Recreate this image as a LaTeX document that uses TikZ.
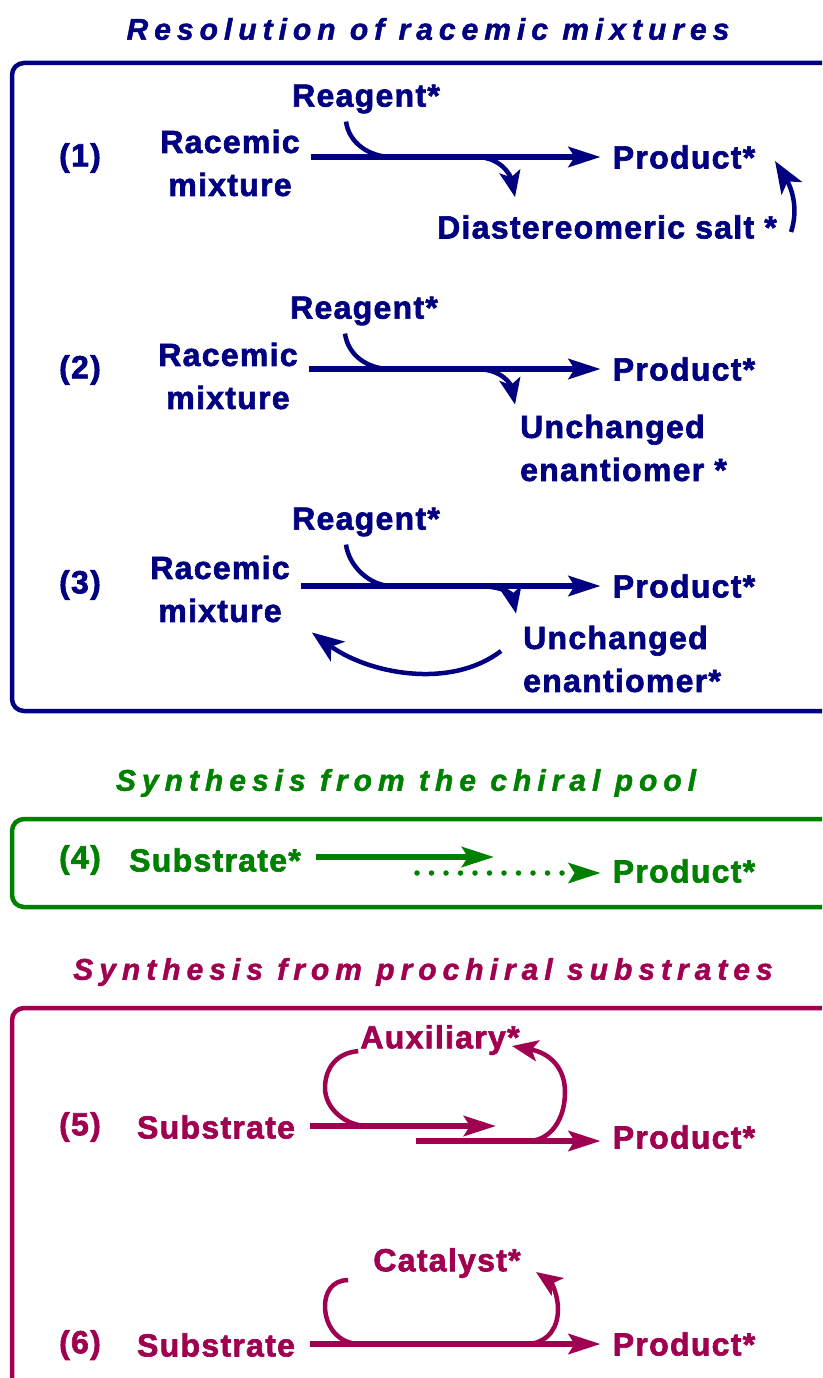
\documentclass[tikz,border=0pt]{standalone}
\usepackage{fontspec}
\setmainfont{Liberation Sans}
\newfontfamily\chemfont{Liberation Sans}[LetterSpace=4, BoldFeatures={FakeBold=2}]
\newfontfamily\headfont{Liberation Sans}[LetterSpace=20, BoldItalicFeatures={FakeBold=1.5}]
\usetikzlibrary{arrows.meta,calc}

\definecolor{resnavy}{RGB}{0,0,128}
\definecolor{poolgreen}{RGB}{0,128,0}
\definecolor{prochiral}{RGB}{160,0,80}

\begin{document}
\begin{tikzpicture}[
    x=1pt, y=-1pt,
    chem/.style={font=\fontsize{32}{43}\selectfont\chemfont\bfseries, inner sep=0pt, align=center},
    heading/.style={font=\fontsize{30}{34}\selectfont\headfont\bfseries\itshape, inner sep=0pt},
    panel/.style={line width=4.5pt, rounded corners=12pt},
    reaction/.style={line width=6pt, -{Stealth[length=32pt,width=20pt,inset=6pt]}},
    joiner/.style={line width=4.5pt},
    branch/.style={line width=4.5pt, -{Stealth[length=26pt,width=21pt,inset=6pt]}},
    recycle/.style={line width=4.5pt, -{Stealth[length=32pt,width=24pt,inset=8pt]}}
]
\clip (0,0) rectangle (822,1378);

% Resolution of racemic mixtures
\begin{scope}[resnavy]
\node[heading] (reshead) at (428,29) {Resolution of racemic mixtures};
\draw[panel] (860,63) -- (12,63) -- (12,711) -- (860,711);

% Row (1)
\node[chem] (num1) at (80,158) {(1)};
\node[chem] (rac1) at (230,163) {Racemic\\mixture};
\node[chem] (reag1) at (366,99) {Reagent*};
\node[chem] (prod1) at (684,157) {Product*};
\node[chem] (salt1) at (607,227) {Diastereomeric salt *};
\coordinate (join1) at (392,157);
\coordinate (fork1) at (476,157);
\coordinate (tip1) at (515,197);
\coordinate (salttip) at (775,161);
\draw[reaction] ([xshift=11pt]rac1.east |- prod1) -- ([xshift=-12pt]prod1.west);
\draw[joiner] ([xshift=-20pt,yshift=-8pt]reag1.south) .. controls +(3,22) and +(-22,0) .. (join1);
\draw[branch] (fork1) .. controls +(26,0) and +(-4,-20) .. (tip1);
\draw[recycle] ([shift={(14,5)}]salt1.east) .. controls +(8,-24) and +(16,26) .. (salttip);

% Row (2)
\node[chem] (num2) at (80,370) {(2)};
\node[chem] (rac2) at (228,376) {Racemic\\mixture};
\node[chem] (reag2) at (364,311) {Reagent*};
\node[chem] (prod2) at (684,369) {Product*};
\node[chem, align=left, anchor=west] (unch2) at (520,448) {Unchanged\\enantiomer *};
\coordinate (join2) at (390,369);
\coordinate (fork2) at (476,369);
\draw[reaction] ([xshift=11pt]rac2.east |- prod2) -- ([xshift=-12pt]prod2.west);
\draw[joiner] ([xshift=-19pt,yshift=-8pt]reag2.south) .. controls +(3,22) and +(-22,0) .. (join2);
\draw[branch] (fork2) .. controls +(26,0) and +(-4,-20) .. ([shift={(-5,-10)}]unch2.north west);

% Row (3)
\node[chem] (num3) at (80,585) {(3)};
\node[chem] (rac3) at (220,589) {Racemic\\mixture};
\node[chem] (reag3) at (366,522) {Reagent*};
\node[chem] (prod3) at (684,586) {Product*};
\node[chem, align=left, anchor=west] (unch3) at (523,659) {Unchanged\\enantiomer*};
\coordinate (join3) at (392,586);
\coordinate (fork3) at (476,586);
\draw[reaction] ([xshift=11pt]rac3.east |- prod3) -- ([xshift=-12pt]prod3.west);
\draw[joiner] ([xshift=-20pt,yshift=-8pt]reag3.south) .. controls +(3,22) and +(-22,0) .. (join3);
\draw[branch] (fork3) .. controls +(26,0) and +(-4,-20) .. ([shift={(-7,-12)}]unch3.north west);
\draw[recycle] ([shift={(-22,-8)}]unch3.west) .. controls +(-51,39) and +(56,41) .. ([shift={(22,10)}]rac3.south east);
\end{scope}

% Synthesis from the chiral pool
\begin{scope}[poolgreen]
\node[heading] (poolhead) at (406,783) {Synthesis from the chiral pool};
\draw[panel] (860,819) -- (12,819) -- (12,907) -- (860,907);
\node[chem] (num4) at (80,860) {(4)};
\node[chem] (sub4) at (215,860) {Substrate*};
\node[chem] (prod4) at (684,871) {Product*};
\coordinate (end4) at (494,857);
\coordinate (dots4) at (417,873);
\draw[reaction] ([xshift=15pt]sub4.east |- end4) -- (end4);
\draw[line width=5.5pt, dash pattern=on 0pt off 14.5pt, line cap=round,
      -{Stealth[length=32pt,width=20pt,inset=6pt]}] (dots4) -- ([xshift=-12pt]prod4.west |- dots4);
\end{scope}

% Synthesis from prochiral substrates
\begin{scope}[prochiral]
\node[heading] (prohead) at (423,972) {Synthesis from prochiral substrates};
\draw[panel] (860,1008) -- (12,1008) -- (12,1420);

% Row (5)
\node[chem] (num5) at (80,1127) {(5)};
\node[chem] (sub5) at (216,1127) {Substrate};
\node[chem] (prod5) at (684,1137) {Product*};
\node[chem] (aux5) at (440,1040) {Auxiliary*};
\coordinate (end5) at (496,1126);
\coordinate (start5) at (416,1141);
\coordinate (in5) at (368,1126);
\coordinate (out5) at (528,1141);
\coordinate (auxtip) at (512,1046);
\draw[reaction] ([xshift=15pt]sub5.east |- end5) -- (end5);
\draw[reaction] (start5) -- ([xshift=-12pt]prod5.west |- start5);
\draw[joiner] ([xshift=-2pt,yshift=4pt]aux5.south west) .. controls (335,1053) and (325,1070) .. (325,1088)
    .. controls (325,1108) and (345,1126) .. (in5);
\draw[branch] (out5) .. controls (550,1141) and (565,1120) .. (565,1092)
    .. controls (565,1068) and (550,1053) .. (auxtip);

% Row (6)
\node[chem] (num6) at (80,1345) {(6)};
\node[chem] (sub6) at (216,1345) {Substrate};
\node[chem] (prod6) at (684,1344) {Product*};
\node[chem] (cat6) at (447,1263) {Catalyst*};
\coordinate (in6) at (360,1344);
\coordinate (out6) at (530,1344);
\coordinate (cattip) at (536,1272);
\draw[reaction] ([xshift=15pt]sub6.east |- prod6) -- ([xshift=-12pt]prod6.west);
\draw[joiner] ([xshift=-25pt,yshift=-2pt]cat6.south west) .. controls (331,1280) and (325,1294) .. (325,1306)
    .. controls (325,1326) and (338,1344) .. (in6);
\draw[branch] (out6) .. controls (550,1341) and (558,1326) .. (558,1309)
    .. controls (558,1296) and (552,1283) .. (cattip);
\end{scope}

\end{tikzpicture}
\end{document}
